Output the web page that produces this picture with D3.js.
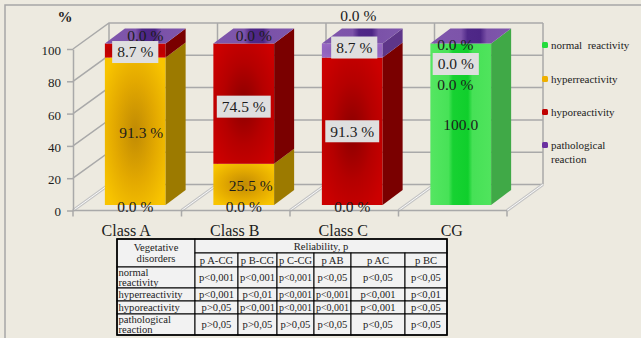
<!DOCTYPE html>
<html>
<head>
<meta charset="utf-8">
<script src="https://cdn.jsdelivr.net/npm/d3@7"></script>
<style>
  html, body { margin: 0; padding: 0; background: #edeae0; }
  svg { display: block; }
  text { font-family: "Liberation Serif", "Times New Roman", serif; fill: #1c1c1c; }
</style>
</head>
<body>
<svg id="chart" width="641" height="338"></svg>
<script>
// ---- data ----
const categories = ["Class A", "Class B", "Class C", "CG"];
const seriesNames = ["normal  reactivity", "hyperreactivity", "hyporeactivity", "pathological reaction"];
const normalValues = [0, 0, 0, 100];
const hyperValues = [91.3, 25.5, 0, 0];
const hypoValues = [8.7, 74.5, 91.3, 0];
const pathoValues = [0, 0, 8.7, 0];
const yTicks = [0, 20, 40, 60, 80, 100];

const tableTitle = "Reliability, p";
const tableCorner = ["Vegetative", "disorders"];
const tableColumns = ["p A-CG", "p B-CG", "p C-CG", "p AB", "p AC", "p BC"];
const tableRowLabels = [["normal", "reactivity"], ["hyperreactivity"], ["hyporeactivity"], ["pathological", "reaction"]];
const pNormal = ["p<0,001", "p<0,001", "p<0,001", "p<0,05", "p<0,05", "p<0,05"];
const pHyper = ["p<0,001", "p<0,01", "p<0,001", "p<0,001", "p<0,001", "p<0,01"];
const pHypo = ["p>0,05", "p<0,001", "p<0,001", "p<0,001", "p<0,001", "p<0,05"];
const pPatho = ["p>0,05", "p>0,05", "p>0,05", "p<0,05", "p<0,05", "p<0,05"];

// ---- layout ----
const svg = d3.select("#chart");
const keys = ["normal", "hyper", "hypo", "patho"];
const rows = categories.map((c, i) => ({
  cat: c, normal: normalValues[i], hyper: hyperValues[i], hypo: hypoValues[i], patho: pathoValues[i]
}));
const stacked = d3.stack().keys(keys)(rows);

const y = d3.scaleLinear().domain([0, 100]).range([210.5, 49]);
const xFloor = d3.scaleBand().domain(categories).range([73, 507]);
const wall = { dx: 36, dy: -26 };          // depth of the plot box
const plane = { dx: 8, dy: -5.5 };         // front plane of the columns
const colDepth = { dx: 20, dy: -15 };      // depth of each column
const x = d3.scaleBand().domain(categories)
  .range([73 + plane.dx, 507 + plane.dx]).paddingInner(0.44).paddingOuter(0.22);
const yb = v => y(v) + plane.dy;

// ---- gradients ----
const defs = svg.append("defs");
function radial(id, inner, mid, outer) {
  const g = defs.append("radialGradient").attr("id", id).attr("cx", "50%").attr("cy", "50%").attr("r", "62%");
  g.append("stop").attr("offset", "0%").attr("stop-color", inner);
  g.append("stop").attr("offset", "55%").attr("stop-color", mid);
  g.append("stop").attr("offset", "100%").attr("stop-color", outer);
}
radial("f-hyper", "#c08a04", "#e3a900", "#f8c400");
radial("f-hypo", "#8a0000", "#b50000", "#cc0000");
radial("f-patho", "#8255b0", "#8d60ba", "#9868c4");
const gGreen = defs.append("linearGradient").attr("id", "f-normal").attr("x1", "0").attr("x2", "1").attr("y1", "0").attr("y2", "0");
[[0, "#55e662"], [0.3, "#47e257"], [0.37, "#17d232"], [0.62, "#10cf2c"], [0.69, "#46e156"], [1, "#50e45d"]]
  .forEach(([o, c]) => gGreen.append("stop").attr("offset", o).attr("stop-color", c));
const gTop = defs.append("linearGradient").attr("id", "t-patho").attr("x1", "0").attr("x2", "1").attr("y1", "0").attr("y2", "0");
[[0, "#7f57ac"], [0.38, "#7d54aa"], [0.46, "#4f2888"], [0.62, "#4d2686"], [0.7, "#7b52a8"], [1, "#7f57ac"]]
  .forEach(([o, c]) => gTop.append("stop").attr("offset", o).attr("stop-color", c));

const sideColor = { normal: "#40a947", hyper: "#9c7a00", hypo: "#7a0000", patho: "#5e3689" };
const legendColor = { normal: "#22dc3c", hyper: "#efb000", hypo: "#c00000", patho: "#6a30a0" };

// ---- frame ----
svg.append("path").attr("d", "M5,338 V5 H641").attr("fill", "none").attr("stroke", "#a6a6a6").attr("stroke-width", 1.5);

// ---- walls and gridlines ----
const grid = svg.append("g").attr("fill", "none");
const backL = 73 + wall.dx, backR = 507 + wall.dx;
yTicks.forEach(v => {
  grid.append("polyline")
    .attr("points", [[73, y(v)], [backL, y(v) + wall.dy], [backR, y(v) + wall.dy]].join(" "))
    .attr("stroke", "#a9a9a9").attr("stroke-width", 1.5);
});
d3.range(0, 5).forEach(i => {
  const bx = backL + i * xFloor.step();
  grid.append("line").attr("x1", bx).attr("x2", bx)
    .attr("y1", y(100) + wall.dy).attr("y2", y(0) + wall.dy)
    .attr("stroke", "#a9a9a9").attr("stroke-width", 1.5);
});
// floor edges drawn as light double lines
d3.range(0, 5).forEach(i => {
  const fx = 73 + i * xFloor.step();
  [["#c4c4c4", 3], ["#fbfbfb", 1]].forEach(([c, w]) => {
    grid.append("line").attr("x1", fx).attr("y1", y(0)).attr("x2", fx + wall.dx).attr("y2", y(0) + wall.dy)
      .attr("stroke", c).attr("stroke-width", w);
  });
});

// ---- axes ----
const yAxis = svg.append("g").attr("transform", "translate(73,0)")
  .call(d3.axisLeft(y).tickValues(yTicks).tickSize(6).tickSizeOuter(0).tickPadding(6));
yAxis.attr("font-family", null);
yAxis.select(".domain").attr("stroke", "#a9a9a9").attr("stroke-width", 1.5);
yAxis.selectAll(".tick line").attr("stroke", "#a9a9a9").attr("stroke-width", 1.5);
yAxis.selectAll(".tick text").attr("font-size", 13).attr("fill", "#222").attr("dy", "0.42em");

svg.append("line").attr("x1", 73).attr("x2", 507).attr("y1", y(0)).attr("y2", y(0))
  .attr("stroke", "#a9a9a9").attr("stroke-width", 1.5);
d3.range(0, 5).forEach(i => {
  const fx = 73 + i * xFloor.step();
  svg.append("line").attr("x1", fx).attr("x2", fx).attr("y1", y(0)).attr("y2", y(0) + 6)
    .attr("stroke", "#a9a9a9").attr("stroke-width", 1.5);
});
svg.append("g").selectAll("text").data(categories).join("text")
  .attr("x", d => xFloor(d) + xFloor.bandwidth() / 2 - 1).attr("y", 236)
  .attr("text-anchor", "middle").attr("font-size", 16).text(d => d);

svg.append("text").attr("x", 65).attr("y", 22).attr("text-anchor", "middle")
  .attr("font-size", 15).attr("font-weight", "bold").text("%");

// ---- columns ----
const bw = x.bandwidth();
const bars = svg.append("g");
categories.forEach((c, i) => {
  const L = x(c), R = L + bw;
  stacked.forEach(s => {
    const [v0, v1] = s[i];
    if (v1 - v0 <= 0) return;
    bars.append("rect").attr("x", L).attr("y", yb(v1)).attr("width", bw).attr("height", yb(v0) - yb(v1))
      .attr("fill", `url(#f-${s.key})`);
    bars.append("polygon")
      .attr("points", [[R, yb(v1)], [R + colDepth.dx, yb(v1) + colDepth.dy], [R + colDepth.dx, yb(v0) + colDepth.dy], [R, yb(v0)]].join(" "))
      .attr("fill", sideColor[s.key]);
  });
  const topV = stacked[stacked.length - 1][i][1];
  const yt = yb(topV);
  bars.append("polygon")
    .attr("points", [[L, yt], [L + colDepth.dx, yt + colDepth.dy], [R + colDepth.dx, yt + colDepth.dy], [R, yt]].join(" "))
    .attr("fill", "url(#t-patho)");
});

// ---- data labels ----
const labelNudge = {
  "Class A|hyper": [6, 1.5],
  "Class A|hypo": [0, 1.5],
  "Class B|hyper": [7, 1.5],
  "Class B|hypo": [0, 3],
  "Class C|hyper": [6, -191],
  "Class C|patho": [2, -3],
  "CG|hyper": [-15.5, 49],
  "CG|hypo": [-15, 28],
  "CG|patho": [-15.5, 9]
};
const fmt = d3.format(".1f");
const labels = svg.append("g");
categories.forEach((c, i) => {
  const cx = x(c) + bw / 2;
  stacked.forEach(s => {
    const [v0, v1] = s[i];
    const val = v1 - v0;
    let px, py;
    if (val > 0) { px = cx; py = (yb(v0) + yb(v1)) / 2; }
    else if (v0 === 0) { px = cx; py = yb(0) + 2; }
    else { px = cx + colDepth.dx / 2; py = yb(v0) + colDepth.dy / 2; }
    const n = labelNudge[`${c}|${s.key}`] || [0, 0];
    px += n[0]; py += n[1];
    const boxed = s.key === "hypo" || (s.key === "patho" && val > 0);
    const g = labels.append("g");
    const t = g.append("text").attr("x", px).attr("y", py).attr("dy", "0.35em")
      .attr("text-anchor", "middle").attr("font-size", 15.5)
      .text(fmt(val) + (val >= 100 ? "" : " %"));
    if (boxed) {
      const w = t.node().getComputedTextLength() + 10;
      g.insert("rect", "text").attr("x", px - w / 2).attr("y", py - 11).attr("width", w).attr("height", 22)
        .attr("fill", "#dfdfdf");
    }
  });
});

// ---- legend ----
const legendY = [45, 79, 112, 145];
const legend = svg.append("g");
keys.forEach((k, j) => {
  legend.append("rect").attr("x", 542).attr("y", legendY[j] - 3).attr("width", 6).attr("height", 6)
    .attr("rx", 1.5).attr("fill", legendColor[k]);
  const name = seriesNames[j];
  const lines = k === "patho" ? ["pathological", "reaction"] : [name];
  lines.forEach((ln, m) => {
    legend.append("text").attr("x", 551).attr("y", legendY[j] + m * 14).attr("dy", "0.35em")
      .attr("font-size", 11).style("white-space", "pre").text(ln);
  });
});

// ---- reliability table ----
const colX = [117, 195, 238, 277, 314, 351, 405, 447];
const rowY = [239, 253, 267, 288, 301, 314, 335];
const pRows = [pNormal, pHyper, pHypo, pPatho];
const fs = 10.6;
const tbl = svg.append("g");
const cell = (x0, y0, x1, y1) => tbl.append("rect").attr("x", x0).attr("y", y0)
  .attr("width", x1 - x0).attr("height", y1 - y0).attr("fill", "#f2f2f2").attr("stroke", "#000").attr("stroke-width", 1);
cell(colX[0], rowY[0], colX[1], rowY[2]);
cell(colX[1], rowY[0], colX[7], rowY[1]);
tableColumns.forEach((h, j) => cell(colX[j + 1], rowY[1], colX[j + 2], rowY[2]));
pRows.forEach((r, ri) => {
  cell(colX[0], rowY[ri + 2], colX[1], rowY[ri + 3]);
  r.forEach((p, j) => cell(colX[j + 1], rowY[ri + 2], colX[j + 2], rowY[ri + 3]));
});
tbl.append("rect").attr("x", colX[0]).attr("y", rowY[0]).attr("width", colX[7] - colX[0])
  .attr("height", rowY[6] - rowY[0]).attr("fill", "none").attr("stroke", "#000").attr("stroke-width", 1.6);

// p-values are squeezed slightly so they fit the narrow columns
const tt = (tx, ty, s, anchor, maxW) => {
  const t = tbl.append("text").attr("x", tx).attr("y", ty).attr("dy", "0.35em")
    .attr("text-anchor", anchor || "middle").attr("font-size", fs).attr("fill", "#222").text(s);
  if (maxW && t.node().getComputedTextLength() > maxW) {
    t.attr("textLength", maxW).attr("lengthAdjust", "spacingAndGlyphs");
  }
  return t;
};
tableCorner.forEach((s, m) => tt((colX[0] + colX[1]) / 2, 247 + m * 11, s));
tt((colX[1] + colX[7]) / 2, (rowY[0] + rowY[1]) / 2, tableTitle);
tableColumns.forEach((h, j) => tt((colX[j + 1] + colX[j + 2]) / 2, (rowY[1] + rowY[2]) / 2, h, null, colX[j + 2] - colX[j + 1] - 4));
pRows.forEach((r, ri) => {
  const ymid = (rowY[ri + 2] + rowY[ri + 3]) / 2;
  const lab = tableRowLabels[ri];
  lab.forEach((s, m) => tt(colX[0] + 1.5, ymid + (m - (lab.length - 1) / 2) * 10.5, s, "start"));
  r.forEach((p, j) => tt((colX[j + 1] + colX[j + 2]) / 2, ymid, p, null, colX[j + 2] - colX[j + 1] - 4));
});
</script>
</body>
</html>
